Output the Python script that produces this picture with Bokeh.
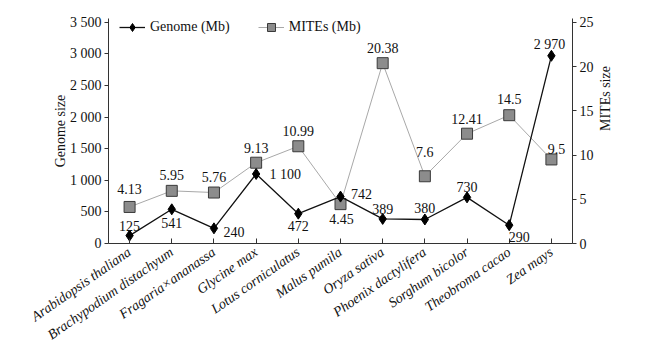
import math
from bokeh.plotting import figure
from bokeh.models import (Range1d, LinearAxis, FixedTicker, CustomJSTickFormatter,
                          ColumnDataSource, LabelSet, Legend, LegendItem)
from bokeh.embed import file_html
from bokeh.resources import INLINE

species = ["Arabidopsis thaliana", "Brachypodium distachyum", "Fragaria\u00d7ananassa",
           "Glycine max", "Lotus corniculatus", "Malus pumila", "Oryza sativa",
           "Phoenix dactylifera", "Sorghum bicolor", "Theobroma cacao", "Zea mays"]
genome_mb = [125, 541, 240, 1100, 472, 742, 389, 380, 730, 290, 2970]
mites_mb = [4.13, 5.95, 5.76, 9.13, 10.99, 4.45, 20.38, 7.6, 12.41, 14.5, 9.5]
genome_ticks = [0, 500, 1000, 1500, 2000, 2500, 3000, 3500]
mites_ticks = [0, 5, 10, 15, 20, 25]

# label placement (screen px, +y is up)
g_dx = [0, 0, 20, 29, 0, 21, 0, 0, 0, 10, -2]
g_dy = [10, -14, -4, -1, -12, 3, 10, 11, 10, -12, 11]
m_dx = [0, 0, 0, 0, 0, 1, 0, 0, 0, 0, 5]
m_dy = [18, 16, 16, 15, 15, -15, 15, 24, 15, 16, 10]

FONT = "Liberation Serif"
Y_END = 3560
M_END = 25 * Y_END / 3500


def fmt_thousands(v):
    s = str(int(round(v)))
    return s[:-3] + " " + s[-3:] if len(s) > 3 else s


p = figure(x_range=species, y_range=Range1d(0, Y_END),
           frame_width=464, frame_height=225,
           min_border_left=108, min_border_top=18, min_border_right=60,
           min_border_bottom=100,
           output_backend="svg", toolbar_location=None)
p.extra_y_ranges = {"mites": Range1d(0, M_END)}
p.outline_line_color = None
p.xgrid.visible = False
p.ygrid.visible = False
p.background_fill_color = "white"

# axes styling
p.yaxis.ticker = FixedTicker(ticks=genome_ticks)
p.yaxis.formatter = CustomJSTickFormatter(code="""
const s = Math.round(tick).toString();
return s.length > 3 ? s.slice(0, -3) + ' ' + s.slice(-3) : s;
""")
p.yaxis.axis_label = "Genome size"

right = LinearAxis(y_range_name="mites", ticker=FixedTicker(ticks=mites_ticks),
                   axis_label="MITEs size")
p.add_layout(right, "right")

for ax in [p.yaxis[0], right]:
    ax.major_label_text_font = FONT
    ax.major_label_text_font_size = "14px"
    ax.major_label_text_color = "#111111"
    ax.axis_label_text_font = FONT
    ax.axis_label_text_font_size = "14px"
    ax.axis_label_text_font_style = "normal"
    ax.axis_label_text_color = "#111111"
    ax.major_tick_in = 0
    ax.major_tick_out = 4
    ax.minor_tick_line_color = None
    ax.axis_line_color = "#333333"
    ax.major_tick_line_color = "#333333"
    ax.major_label_standoff = 3

p.yaxis[0].axis_label_standoff = -1
right.axis_label_standoff = 9

# right-hand axis title reads bottom-to-top, like the left one
try:
    right.axis_label_orientation = math.pi / 2
except Exception:
    pass

xa = p.xaxis[0]
xa.major_label_orientation = 0.61
xa.major_label_text_font = FONT
xa.major_label_text_font_style = "italic"
xa.major_label_text_font_size = "14px"
xa.major_label_text_color = "#111111"
xa.major_tick_in = 5
xa.major_tick_out = 0
xa.axis_line_color = "#333333"
xa.major_tick_line_color = "#333333"
xa.major_label_standoff = 7

src = ColumnDataSource(dict(
    x=species, g=genome_mb, m=mites_mb,
    gl=[fmt_thousands(v) for v in genome_mb],
    ml=[("%g" % v) for v in mites_mb],
    gdx=g_dx, gdy=g_dy, mdx=m_dx, mdy=m_dy))

ml = p.line("x", "m", source=src, y_range_name="mites", line_color="#a8a8a8", line_width=1)
ms = p.scatter("x", "m", source=src, y_range_name="mites", marker="square", size=11,
               fill_color="#8c8c8c", line_color="#3a3a3a", line_width=1)
gl = p.line("x", "g", source=src, line_color="#111111", line_width=1.3)
gs = p.scatter("x", "g", source=src, marker="diamond", size=11,
               fill_color="#000000", line_color="#000000")

p.add_layout(LabelSet(x="x", y="g", text="gl", source=src, x_offset="gdx", y_offset="gdy",
                      text_align="center", text_baseline="middle", text_font=FONT,
                      text_font_size="14px", text_color="#111111"))
p.add_layout(LabelSet(x="x", y="m", text="ml", source=src, y_range_name="mites",
                      x_offset="mdx", y_offset="mdy",
                      text_align="center", text_baseline="middle", text_font=FONT,
                      text_font_size="14px", text_color="#111111"))

legend = Legend(items=[LegendItem(label="Genome (Mb)", renderers=[gl, gs]),
                       LegendItem(label="MITEs (Mb)", renderers=[ml, ms])],
                orientation="horizontal", location=(11, 206),
                label_text_font=FONT, label_text_font_size="14px",
                label_text_color="#111111",
                glyph_width=26, label_standoff=5, spacing=28, padding=0, margin=0,
                background_fill_alpha=0, border_line_color=None)
p.add_layout(legend, "center")

open("out.html", "w").write(file_html(p, INLINE))
